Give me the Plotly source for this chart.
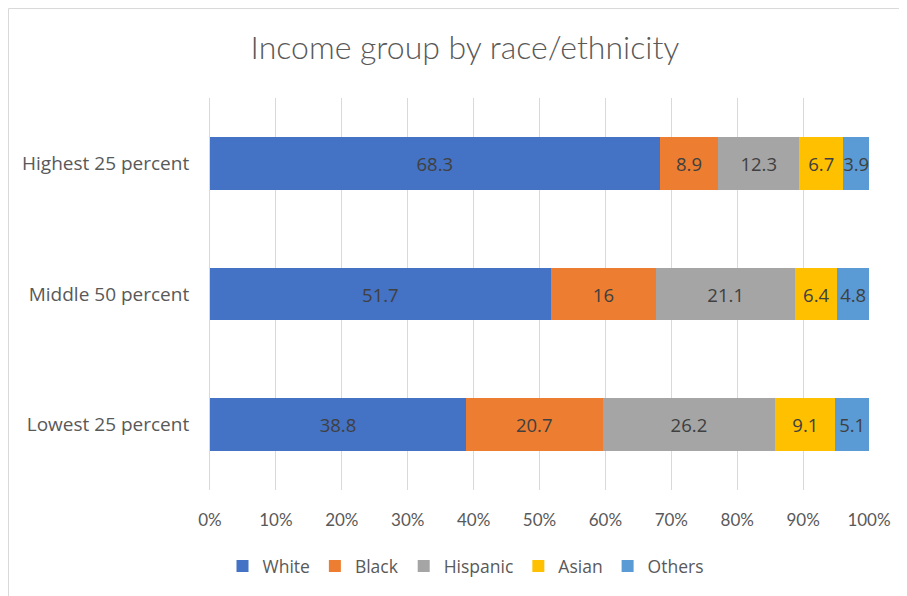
import plotly.graph_objects as go

categories = ["Highest 25 percent", "Middle 50 percent", "Lowest 25 percent"]
series_names = ["White", "Black", "Hispanic", "Asian", "Others"]
white = [68.3, 51.7, 38.8]
black = [8.9, 16, 20.7]
hispanic = [12.3, 21.1, 26.2]
asian = [6.7, 6.4, 9.1]
others = [3.9, 4.8, 5.1]
tick_vals = [0, 10, 20, 30, 40, 50, 60, 70, 80, 90, 100]
tick_text = ["0%", "10%", "20%", "30%", "40%", "50%", "60%", "70%", "80%", "90%", "100%"]

colors = ["#4472C4", "#ED7D31", "#A5A5A5", "#FFC000", "#5B9BD5"]
values = [white, black, hispanic, asian, others]

SANS = "Open Sans"
NARROW = "Lato"
OFF = 8  # page body margin
fig = go.Figure()
for name, vals, col in zip(series_names, values, colors):
    fig.add_trace(go.Bar(
        y=categories, x=vals, name=name, orientation="h",
        marker=dict(color=col, line=dict(width=0)),
        text=[f"{v:g}" for v in vals],
        textposition="inside", insidetextanchor="middle", textangle=0,
        textfont=dict(family=SANS, size=18.5, color="#404040"),
    ))

W, H = 907 - OFF, 596 - OFF
L, R, T, B = 210 - OFF, 907 - 869, 98 - OFF, 596 - 490
pw, ph = W - L - R, H - T - B

def px(x):
    return (x - OFF - L) / pw

def py(y):
    return (H - B - (y - OFF)) / ph

fig.update_layout(
    width=W, height=H, autosize=False,
    barmode="stack", barnorm="percent", bargap=0.595,
    paper_bgcolor="white", plot_bgcolor="white",
    margin=dict(l=L, r=R, t=T, b=B),
    title=dict(text="Income group by race/ethnicity", x=(465 - OFF) / W, xanchor="center",
               y=1 - (48 - OFF) / H, yanchor="middle", xref="container", yref="container",
               font=dict(family=NARROW, size=32, color="#595959", weight=300)),
    xaxis=dict(range=[0, 100], tickvals=tick_vals, ticktext=tick_text,
               showgrid=True, gridcolor="#D9D9D9", gridwidth=1, zeroline=False,
               showline=False, ticks="outside", ticklen=15, tickcolor="rgba(0,0,0,0)",
               tickfont=dict(family=NARROW, size=17, color="#595959"), fixedrange=True),
    yaxis=dict(categoryorder="array", categoryarray=categories[::-1],
               showgrid=False, zeroline=False, showline=True, linecolor="#D9D9D9",
               ticks="outside", ticklen=16, tickcolor="rgba(0,0,0,0)",
               tickfont=dict(family=SANS, size=19, color="#595959"), fixedrange=True),
    legend=dict(orientation="h", x=px(466), xanchor="center", y=py(566), yanchor="middle",
                font=dict(family=SANS, size=17.5, color="#595959"), traceorder="normal",
                itemwidth=30, bgcolor="rgba(0,0,0,0)"),
    uniformtext=dict(minsize=18.5, mode="show"),
    shapes=[
        dict(type="line", xref="paper", yref="paper", x0=px(8.5), x1=px(W + 80), y0=py(8.5), y1=py(8.5),
             line=dict(color="#D9D9D9", width=1)),
        dict(type="line", xref="paper", yref="paper", x0=px(8.5), x1=px(8.5), y0=py(8.5), y1=py(H + 80),
             line=dict(color="#D9D9D9", width=1)),
    ],
)

fig.write_html("out.html")
